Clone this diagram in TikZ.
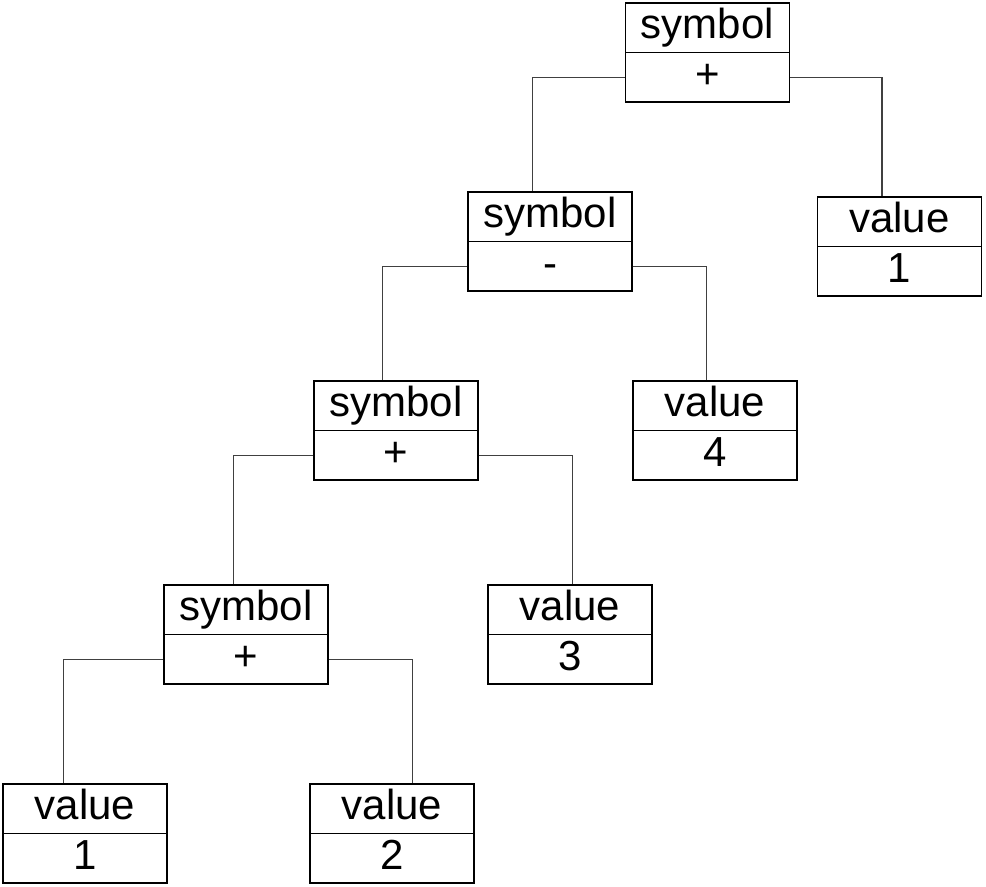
\documentclass[tikz,border=0pt]{standalone}
\usepackage{fontspec}
\setmainfont{Liberation Sans}
\usetikzlibrary{calc}
\tikzset{
  part/.style={draw=black, line width=0.6pt, minimum width=82pt, minimum height=24.75pt,
    inner sep=0pt, text height=15.3pt, text depth=4.4pt,
    font=\fontsize{21pt}{25pt}\selectfont},
  link/.style={draw=black!75, line width=0.6pt}
}
\newcommand\mybox[5]{%
  \node[part] (#1t) at (#2,#3+24.75) {#4};
  \node[part] (#1b) at (#2,#3+74.25) {#5};
}
\begin{document}
\begin{tikzpicture}[x=0.5pt,y=-0.5pt]
\useasboundingbox (0,0) rectangle (986,887);
\mybox{a}{707.5}{3}{symbol}{+}
\mybox{b}{550}{192}{symbol}{-}
\mybox{c}{899.5}{197}{value}{1}
\mybox{d}{396}{381}{symbol}{+}
\mybox{e}{715}{381}{value}{4}
\mybox{f}{246}{585}{symbol}{+}
\mybox{g}{570}{585}{value}{3}
\mybox{h}{85}{784}{value}{1}
\mybox{i}{392}{784}{value}{2}
\draw[link] (ab.west) -| ($(bt.north west)+(65,0)$);
\draw[link] (ab.east) -| ($(ct.north west)+(65,0)$);
\draw[link] (bb.west) -| ($(dt.north west)+(69,0)$);
\draw[link] (bb.east) -| ($(et.north west)+(74,0)$);
\draw[link] (db.west) -| ($(ft.north west)+(70,0)$);
\draw[link] (db.east) -| ($(gt.north west)+(85,0)$);
\draw[link] (fb.west) -| ($(ht.north west)+(61,0)$);
\draw[link] (fb.east) -| ($(it.north west)+(103,0)$);
\end{tikzpicture}
\end{document}
